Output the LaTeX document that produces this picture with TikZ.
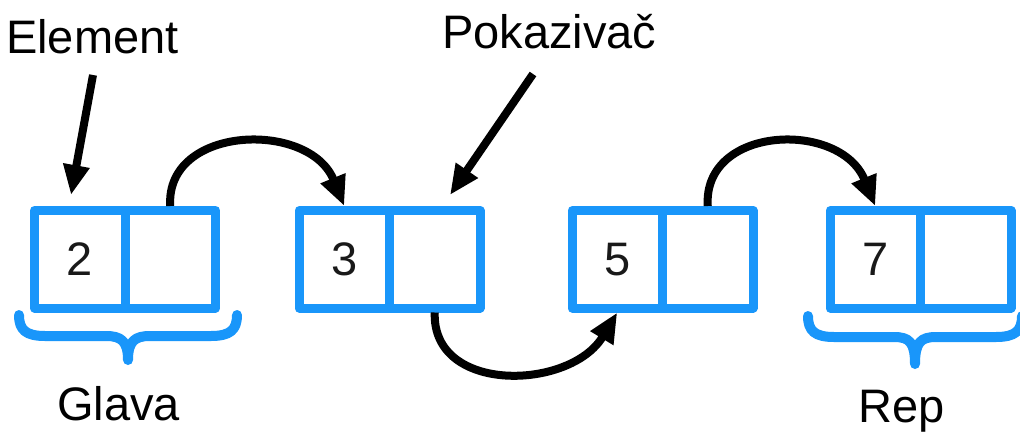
\documentclass[tikz,border=0pt]{standalone}
\usepackage{fontspec}
\setmainfont{Liberation Sans}
\usetikzlibrary{arrows.meta}
\definecolor{cellblue}{RGB}{25,150,250}
\begin{document}
\begin{tikzpicture}[x=1pt,y=-1pt,
  cell/.style={draw=cellblue, line width=9pt, line join=round, rectangle,
    minimum width=90.5pt, minimum height=97.5pt, inner sep=0pt,
    font=\fontsize{47}{56}\selectfont, text=black!90},
  lbl/.style={anchor=base west, inner sep=0pt, font=\fontsize{47}{56}\selectfont},
  ptr/.style={draw=black, line width=8pt,
    -{Triangle[length=30pt,width=25pt]}},
  brace/.style={draw=cellblue, line width=10pt, line cap=round, line join=round}]
\path[use as bounding box] (0,0) rectangle (1020,434);

% list cells: value part and pointer part
\node[cell] (n1v) at (79.75,259.25) {2};
\node[cell] (n1p) at (170.25,259.25) {};
\node[cell] (n2v) at (344.25,259.25) {3};
\node[cell] (n2p) at (434.75,259.25) {};
\node[cell] (n3v) at (617.25,259.25) {5};
\node[cell] (n3p) at (707.75,259.25) {};
\node[cell] (n4v) at (875.25,259.25) {7};
\node[cell] (n4p) at (965.75,259.25) {};

% labels
\node[lbl] (lElem) at (6,53) {Element};
\node[lbl] (lPtr) at (442,48) {Pokazivač};
\node[lbl] (lHead) at (57,420) {Glava};
\node[lbl] (lTail) at (858,422) {Rep};

% label arrows
\coordinate (eTail) at (93,75);
\coordinate (eTip) at (71,195);
\coordinate (pTail) at (533,74);
\coordinate (pTip) at (450,195);
\draw[ptr] (eTail) -- (eTip);
\draw[ptr] (pTail) -- (pTip);

% links between cells
\draw[ptr] (n1p.north) .. controls +(-5,-81) and +(-35,-86) .. (n2v.north);
\draw[ptr] (n2p.south) .. controls +(-3,82) and +(-47,78) .. (n3v.south);
\draw[ptr] (n3p.north) .. controls +(-5,-81) and +(-35,-86) .. (n4v.north);

% braces under the first and last element
\path[brace] (19,315) .. controls (19,330) and (26,336) .. (45,336) -- (106,336)
  .. controls (121,336) and (128,341) .. (128,360)
  .. controls (128,341) and (135,336) .. (150,336) -- (211,336)
  .. controls (230,336) and (237,330) .. (237,315);
\path[brace] (808,316) .. controls (808,331) and (815,337) .. (834,337) -- (894,337)
  .. controls (909,337) and (915,342) .. (915,364)
  .. controls (915,342) and (921,337) .. (936,337) -- (996,337)
  .. controls (1015,337) and (1022,331) .. (1022,316);
\end{tikzpicture}
\end{document}
